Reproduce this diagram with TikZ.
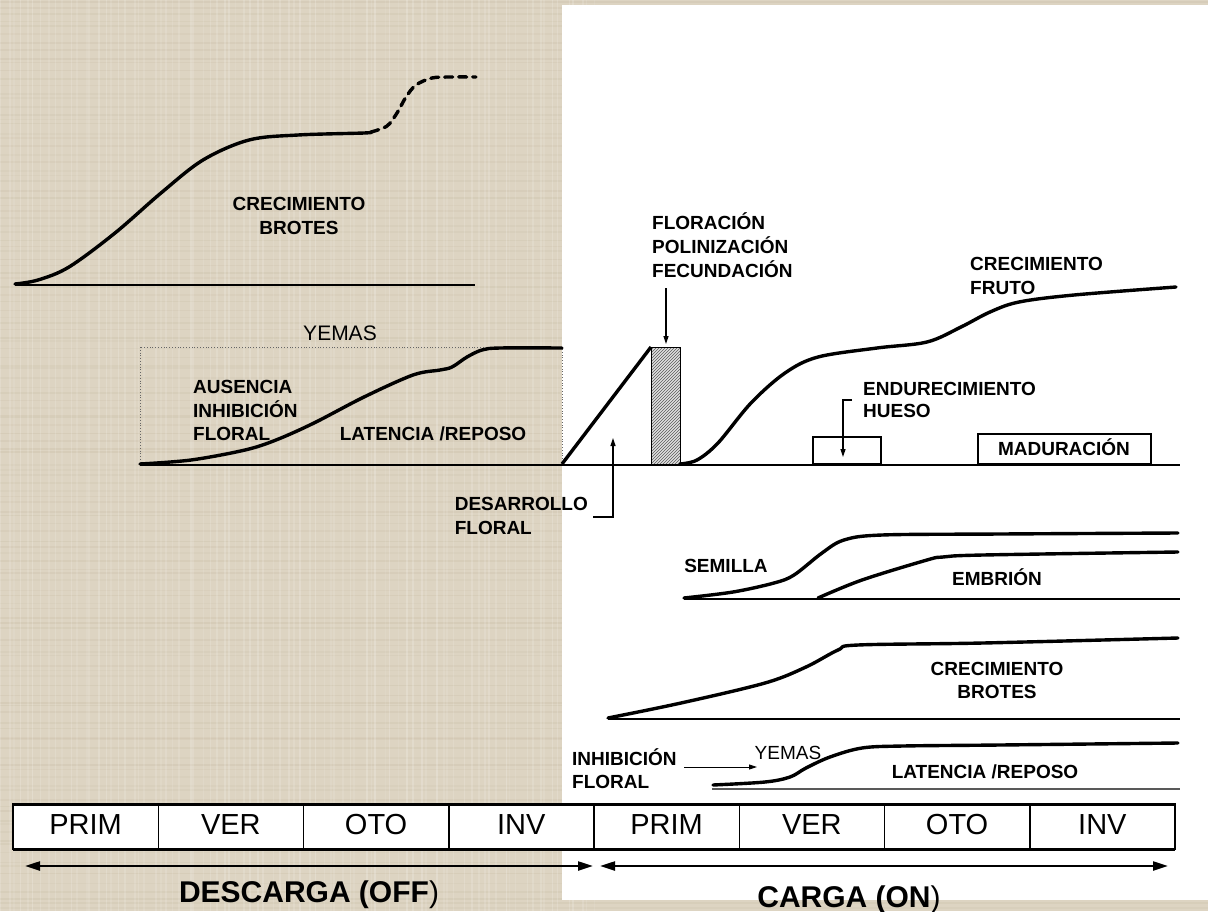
\documentclass[tikz,border=0pt]{standalone}
\usepackage{fontspec}
\setmainfont{Liberation Sans}
\usetikzlibrary{arrows.meta,patterns}
\definecolor{bgbeige}{RGB}{221,212,194}
\definecolor{bgdark}{RGB}{190,178,152}
\begin{document}
\begin{tikzpicture}[x=1pt,y=-1pt,
  lbl/.style={font=\fontsize{19}{23}\selectfont\bfseries, inner sep=0pt},
  reg/.style={font=\fontsize{21}{25}\selectfont, inner sep=0pt},
  regsmall/.style={font=\fontsize{19}{23}\selectfont, inner sep=0pt},
  season/.style={font=\fontsize{29}{33}\selectfont, inner sep=0pt},
  big/.style={font=\fontsize{30}{34}\selectfont\bfseries, inner sep=0pt},
  curve/.style={line width=3.4pt, line cap=round, line join=round},
  axis/.style={line width=1.3pt},
  pointer/.style={line width=1.2pt, -{Triangle[length=8pt,width=5pt]}},
  span/.style={line width=2.2pt, {Triangle[length=15pt,width=9pt]}-{Triangle[length=15pt,width=9pt]}}]
\useasboundingbox (0,0) rectangle (1208,911);
\fill[bgbeige] (0,0) rectangle (1208,911);
% fabric-like texture
\pgfmathsetseed{11}
\foreach \k in {0,...,130} {
  \pgfmathsetmacro\yy{\k*7+3*rand}
  \pgfmathsetmacro\op{0.10+0.12*rnd}
  \draw[bgdark, opacity=\op, line width=1.6pt] (0,\yy) -- (1208,\yy);
}
\foreach \k in {0,...,85} {
  \pgfmathsetmacro\xx{\k*7+3*rand}
  \pgfmathsetmacro\op{0.08+0.12*rnd}
  \draw[white, opacity=\op, line width=1.6pt] (\xx,0) -- (\xx,911);
}
\fill[white] (562,5) rectangle (1208,900);

% ---------- top-left: shoot growth ----------
\draw[axis] (15,285) -- (475,285);
\draw[curve] plot[smooth, tension=0.55] coordinates {(15,284) (38,280) (69,267) (115,233) (161,193) (203,160) (249,140) (298,135) (364,133) (371,132)};
\draw[curve, dash pattern=on 8pt off 6pt] plot[smooth, tension=0.55] coordinates {(371,132) (387,126) (397,113) (406,97) (416,85) (432,78) (450,77) (476,77)};
\node[lbl, anchor=base] (cb1) at (299,210) {CRECIMIENTO};
\node[lbl, anchor=base] (cb2) at (299,234) {BROTES};

% ---------- upper buds ----------
\draw[black!60, line width=0.8pt, dotted] (140,347) rectangle (562,465);
\node[reg, anchor=base] (yem1) at (340,340) {YEMAS};
\draw[curve] plot[smooth, tension=0.55] coordinates {(140,464) (191,460) (245,450) (276,440) (314,423) (364,397) (413,375) (440,370) (452,367) (467,357) (482,350) (500,348) (562,348)};
\node[lbl, anchor=base west] (au1) at (193,393) {AUSENCIA};
\node[lbl, anchor=base west] (au2) at (193,417) {INHIBICIÓN};
\node[lbl, anchor=base west] (au3) at (193,440) {FLORAL};
\node[lbl, anchor=base] (lat1) at (433,440) {LATENCIA /REPOSO};

% ---------- flowering + fruit growth ----------
\draw[axis] (140,465) -- (1180,465);
\draw[curve, line cap=butt] (562,464) -- (651,347);
\fill[black!12] (651,347) rectangle (680,464);
\draw[line width=1pt, pattern=north east lines, pattern color=black!65] (651,347) rectangle (680,464);
\node[lbl, anchor=base west] (fl1) at (652,229) {FLORACIÓN};
\node[lbl, anchor=base west] (fl2) at (652,253) {POLINIZACIÓN};
\node[lbl, anchor=base west] (fl3) at (652,277) {FECUNDACIÓN};
\coordinate (flA) at (666,288);
\coordinate (flB) at (666,344);
\draw[pointer] (flA) -- (flB);
\draw[curve] plot[smooth, tension=0.55] coordinates {(680,464) (697,460) (718,443) (751,403) (785,373) (818,357) (877,348) (927,342) (961,327) (990,312) (1019,302) (1074,295) (1176,287)};
\node[lbl, anchor=base west] (cf1) at (970,270) {CRECIMIENTO};
\node[lbl, anchor=base west] (cf2) at (970,294) {FRUTO};

\node[lbl, anchor=base east] (des1) at (588,510) {DESARROLLO};
\path (des1.base west) ++(0,24) node[lbl, anchor=base west] (des2) {FLORAL};
\coordinate (dA) at (593,517);
\coordinate (dB) at (613,517);
\coordinate (dC) at (613,438);
\draw[pointer] (dA) -- (dB) -- (dC);

\draw[line width=2pt, fill=white] (813,437) rectangle (881,464);
\node[lbl, anchor=base west] (en1) at (863,395) {ENDURECIMIENTO};
\node[lbl, anchor=base west] (en2) at (863,417) {HUESO};
\coordinate (eA) at (852,400);
\coordinate (eB) at (843,400);
\coordinate (eC) at (843,457);
\draw[pointer] (eA) -- (eB) -- (eC);

\draw[line width=2pt, fill=white] (978,434) rectangle (1151,464);
\node[lbl, anchor=base] (mad) at (1064,455) {MADURACIÓN};

% ---------- seed / embryo ----------
\draw[axis] (684,599) -- (1180,599);
\draw[curve] plot[smooth, tension=0.55] coordinates {(684,598) (733,592) (774,583) (794,575) (822,553) (844,540) (882,535) (1000,534) (1178,533)};
\draw[curve] plot[smooth, tension=0.55] coordinates {(818,598) (862,580) (927,560) (943,557) (983,555) (1178,552)};
\node[lbl, anchor=base] (sem) at (726,572) {SEMILLA};
\node[lbl, anchor=base] (emb) at (997,585) {EMBRIÓN};

% ---------- shoot growth (ON) ----------
\draw[axis] (608,719) -- (1180,719);
\draw[curve] plot[smooth, tension=0.55] coordinates {(608,718) (681,703) (765,683) (806,667) (838,650) (858,645) (983,643) (1178,638)};
\node[lbl, anchor=base] (cb3) at (997,675) {CRECIMIENTO};
\node[lbl, anchor=base] (cb4) at (997,698) {BROTES};

% ---------- buds (ON) ----------
\draw[line width=1.5pt, black!65] (712,789) -- (1180,789);
\draw[curve] plot[smooth, tension=0.55] coordinates {(713,785) (765,782) (790,777) (806,768) (830,757) (862,748) (903,746) (1000,745) (1178,743)};
\node[lbl, anchor=base west] (in1) at (572,765) {INHIBICIÓN};
\node[lbl, anchor=base west] (in2) at (572,788) {FLORAL};
\coordinate (iA) at (684,767);
\coordinate (iB) at (757,767);
\draw[pointer, line width=0.9pt] (iA) -- (iB);
\node[regsmall, anchor=base] (yem2) at (788,759) {YEMAS};
\node[lbl, anchor=base] (lat2) at (985,778) {LATENCIA /REPOSO};

% ---------- seasons ----------
\fill[white] (13,804) rectangle (1175,849);
\draw[line width=1.5pt] (13,804) rectangle (1175,849);
\draw[line width=3pt] (13,804) -- (1175,804);
\draw[line width=3pt] (13,849) -- (1175,849);
\foreach \i in {1,...,7} {\draw[line width=1.5pt] ({13+145.25*\i},804) -- ({13+145.25*\i},849);}
\foreach \i/\t in {0/PRIM,1/VER,2/OTO,3/INV,4/PRIM,5/VER,6/OTO,7/INV}
  {\node[season, anchor=base] (s\i) at ({13+145.25*\i+72.6},834.5) {\t};}

\coordinate (offL) at (25,866);
\coordinate (offR) at (593,866);
\coordinate (onL) at (600,866);
\coordinate (onR) at (1168,866);
\draw[span] (offL) -- (offR);
\draw[span] (onL) -- (onR);
\node[big, anchor=base] (off) at (309,902) {DESCARGA (OFF\textmd{)}};
\node[big, anchor=base] (on) at (849,907) {CARGA (ON\textmd{)}};
\end{tikzpicture}
\end{document}
